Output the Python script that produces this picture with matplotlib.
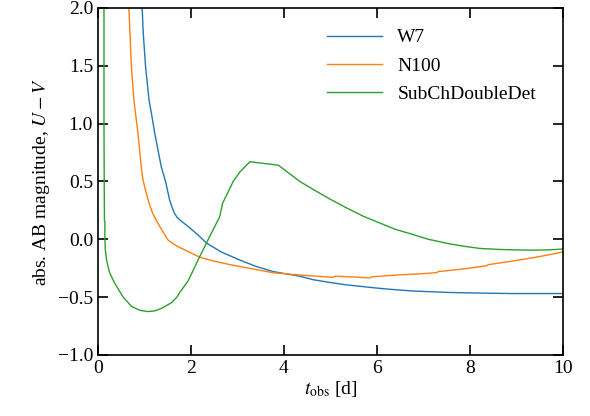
import matplotlib
matplotlib.use("Agg")
import matplotlib.pyplot as plt

plt.rcParams['font.family'] = ['Liberation Serif', 'DejaVu Serif']
plt.rcParams['mathtext.fontset'] = 'stix'
plt.rcParams['font.size'] = 14

# W7
w7_t = [0.94, 0.975, 1.025, 1.10, 1.15, 1.22, 1.36, 1.46, 1.54, 1.60, 1.65, 1.70, 1.76, 1.94,
        2.15, 2.34, 2.65, 3.05, 3.40, 3.77, 4.34, 4.63, 5.0, 5.35, 5.7, 6.06, 6.4, 6.78,
        7.5, 8.22, 8.93, 10.0]
w7_v = [2.10, 1.78, 1.49, 1.20, 1.09, 0.92, 0.63, 0.49, 0.34, 0.27, 0.22, 0.19, 0.167, 0.11,
        0.037, -0.035, -0.11, -0.18, -0.235, -0.28, -0.32, -0.35, -0.375, -0.395, -0.41, -0.425,
        -0.437, -0.448, -0.46, -0.466, -0.47, -0.47]

# N100
n100_t = [0.66, 0.72, 0.774, 0.86, 0.93, 0.97, 1.02, 1.10, 1.18, 1.33, 1.505, 1.62, 1.72, 1.94,
          2.19, 2.5, 2.84, 3.3, 3.77, 4.34, 4.7, 5.06, 5.10, 5.5, 5.85, 5.90, 6.42, 6.9, 7.28,
          7.32, 7.8, 8.36, 8.40, 8.9, 9.36, 9.7, 10.0]
n100_v = [2.05, 1.49, 1.20, 0.92, 0.63, 0.51, 0.43, 0.31, 0.22, 0.11, -0.006, -0.04, -0.064,
          -0.107, -0.156, -0.19, -0.22, -0.255, -0.29, -0.31, -0.32, -0.33, -0.32, -0.327, -0.335,
          -0.325, -0.31, -0.30, -0.29, -0.28, -0.26, -0.23, -0.22, -0.19, -0.16, -0.135, -0.11]

# SubChDoubleDet
sub_t = [0.13, 0.13, 0.135, 0.14, 0.15, 0.148, 0.158, 0.19, 0.25, 0.36, 0.54, 0.72, 0.90, 1.075,
         1.22, 1.36, 1.58, 1.70, 1.76, 1.94, 2.19, 2.40, 2.62, 2.68, 2.91, 3.05, 3.27, 3.88, 4.34,
         4.63, 5.0, 5.35, 5.7, 6.06, 6.4, 6.78, 7.1, 7.5, 7.85, 8.22, 8.6, 8.93, 9.36, 9.7, 10.0]
sub_v = [2.5, 1.0, 0.5, 0.16, 0.15, 0.05, -0.09, -0.19, -0.29, -0.38, -0.50, -0.58, -0.615,
         -0.626, -0.62, -0.60, -0.55, -0.50, -0.46, -0.36, -0.15, 0.02, 0.195, 0.31, 0.50, 0.58,
         0.67, 0.64, 0.50, 0.43, 0.345, 0.27, 0.20, 0.14, 0.085, 0.04, 0.0, -0.035, -0.06, -0.08,
         -0.088, -0.092, -0.095, -0.092, -0.085]

fig = plt.figure(figsize=(5.9, 4.16), dpi=100)
ax = fig.add_axes([0.166, 0.147, 0.788, 0.834])

ax.plot(w7_t, w7_v, color='#1f77b4', lw=1.0, label='W7')
ax.plot(n100_t, n100_v, color='#ff7f0e', lw=1.0, label='N100')
ax.plot(sub_t, sub_v, color='#2ca02c', lw=1.0, label='SubChDoubleDet')

ax.set_xlim(0, 10)
ax.set_ylim(-1.0, 2.0)
ax.set_xticks([0, 2, 4, 6, 8, 10])
ax.set_yticks([-1.0, -0.5, 0.0, 0.5, 1.0, 1.5, 2.0])
ax.tick_params(direction='in', top=True, right=True, length=7, width=1.2, labelsize=14)
for s in ax.spines.values():
    s.set_linewidth(1.2)

ax.set_xlabel(r'$t_\mathrm{obs}$ [d]', fontsize=14, labelpad=2)
ax.set_ylabel(r'abs. AB magnitude, $U-V$', fontsize=14)

ax.legend(loc='upper right', frameon=False, fontsize=14, handlelength=2.8,
          labelspacing=0.55, bbox_to_anchor=(0.98, 0.99))

fig.savefig('out.png', dpi=100)
